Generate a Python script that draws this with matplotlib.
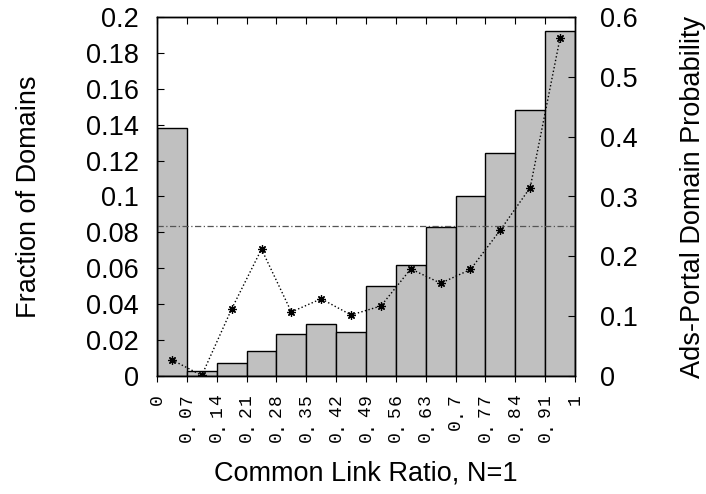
import matplotlib.pyplot as plt
import matplotlib.transforms as mtransforms
import numpy as np

# bin edges of the common link ratio histogram
edge_labels = ['0', '0.07', '0.14', '0.21', '0.28', '0.35', '0.42', '0.49',
               '0.56', '0.63', '0.7', '0.77', '0.84', '0.91', '1']
# fraction of domains per bin (left axis)
fraction = [0.138, 0.003, 0.0075, 0.014, 0.0235, 0.029, 0.0245, 0.050,
            0.062, 0.083, 0.100, 0.124, 0.148, 0.192]
# ads-portal probability per bin (right axis)
ads_prob = [0.027, 0.001, 0.112, 0.212, 0.107, 0.129, 0.102, 0.117,
            0.179, 0.155, 0.178, 0.244, 0.315, 0.565]
threshold = 0.25

plt.rcParams['font.family'] = ['Liberation Sans', 'DejaVu Sans']
FS = 19.5

fig = plt.figure(figsize=(7.06, 4.94), dpi=100)
ax = fig.add_axes([157 / 706, 118 / 494, 418 / 706, 359 / 494])

n = len(fraction)
x = np.arange(n)
ax.bar(x + 0.5, fraction, width=1.0, color='#c0c0c0', edgecolor='black', linewidth=1.0)
ax.set_xlim(0, n)
ax.set_ylim(0, 0.2)
ax.set_yticks(np.arange(0, 0.201, 0.02))
ax.set_yticklabels(['%g' % round(v, 2) for v in np.arange(0, 0.201, 0.02)])
ax.set_xticks(np.arange(n + 1))
ax.set_xticklabels([])
ax.tick_params(axis='y', direction='in', length=5, labelsize=FS, pad=13, right=True)
ax.tick_params(axis='x', direction='out', length=4)

# rotated edge labels, typewriter style with wide letter spacing
top_pt, step_pt = 12.6, 8.9
for i, lab in enumerate(edge_labels):
    for j, ch in enumerate(reversed(lab)):
        tr = mtransforms.offset_copy(ax.get_xaxis_transform(), fig=fig,
                                     y=-(top_pt + (j + 0.5) * step_pt), units='points')
        ax.text(i, 0, ch, transform=tr, rotation=90, ha='center', va='center',
                family='Liberation Mono', fontsize=13)

ax.set_ylabel('Fraction of Domains', fontsize=FS)
ax.yaxis.set_label_coords(-0.275, 0.5)
ax.set_xlabel('Common Link Ratio, N=1', fontsize=FS)
ax.xaxis.set_label_coords(0.5, -0.234)

# inward ticks on the top edge at the bin edges
top = ax.secondary_xaxis('top')
top.set_xticks(np.arange(n + 1))
top.set_xticklabels([])
top.tick_params(direction='in', length=5)

ax2 = ax.twinx()
ax2.axhline(threshold, color='#555555', linewidth=0.9, linestyle=(0, (5, 2, 1, 2)))
ax2.plot(x + 0.5, ads_prob, color='black', linestyle=':', linewidth=1.0,
         marker=(8, 2, 0), markersize=6, markeredgewidth=0.9)
ax2.set_ylim(0, 0.6)
ax2.set_yticks(np.arange(0, 0.61, 0.1))
ax2.set_yticklabels(['%g' % round(v, 1) for v in np.arange(0, 0.61, 0.1)])
ax2.tick_params(axis='y', direction='in', length=5, labelsize=FS, pad=18)
ax2.set_ylabel('Ads-Portal Domain Probability', fontsize=FS)
ax2.yaxis.set_label_coords(1.25, 0.5)

for a in (ax, ax2):
    for s in a.spines.values():
        s.set_linewidth(1.0)

fig.savefig('out.png', dpi=100)
